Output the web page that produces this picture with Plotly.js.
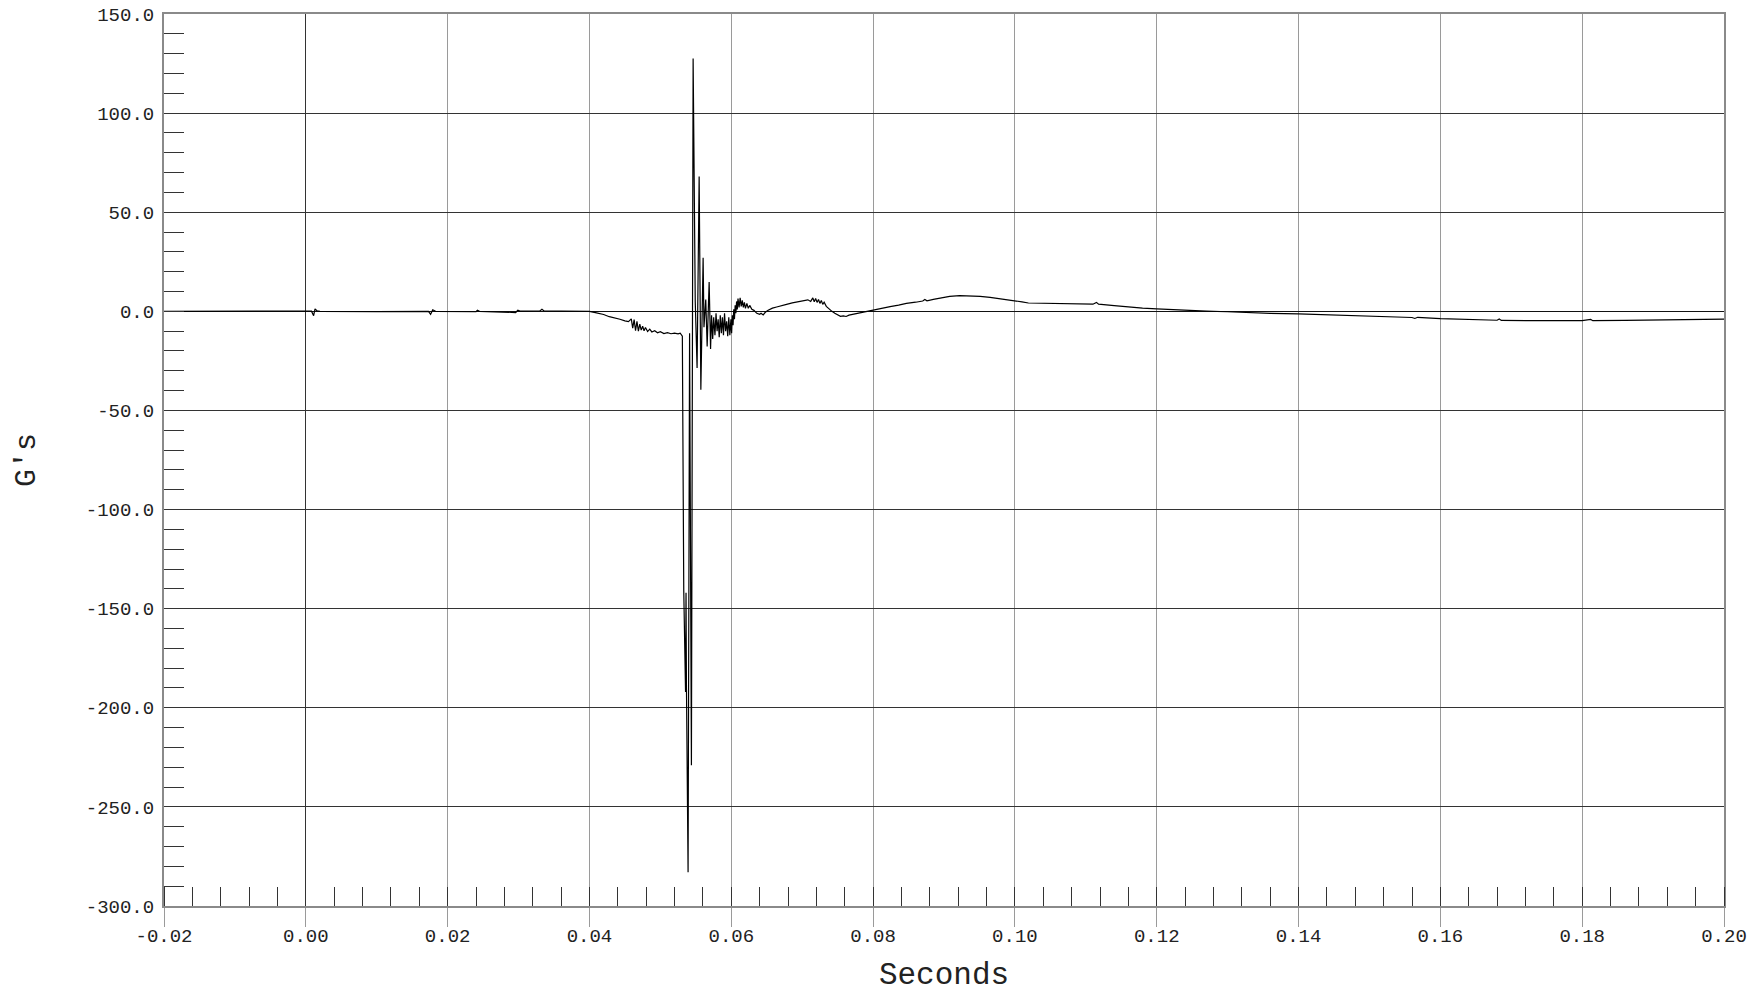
<!DOCTYPE html>
<html>
<head>
<meta charset="utf-8">
<script src="https://cdn.plot.ly/plotly-3.0.1.min.js"></script>
<style>
html,body{margin:0;padding:0;background:#fff;}
#chart{width:1754px;height:993px;}
</style>
</head>
<body>
<div id="chart"></div>
<script>
// Time (seconds) and acceleration (G's)
var timeS = [
 -0.02, -0.01, 0.0, 0.0008, 0.0011, 0.0013, 0.0016, 0.002, 0.01, 0.0173, 0.0176, 0.0179, 0.0183,
 0.024, 0.0242, 0.0245, 0.0296, 0.0299, 0.0302, 0.033, 0.0333, 0.0336, 0.036, 0.040,
 0.0410, 0.0420, 0.0428, 0.0435, 0.0443, 0.0450, 0.0455,
 0.0459, 0.0461, 0.0463, 0.0465, 0.0467, 0.0469, 0.0471, 0.0473, 0.0475, 0.0477, 0.0479,
 0.0482, 0.0485, 0.0488, 0.0492, 0.0496, 0.0500, 0.0505, 0.0510, 0.0515, 0.0520, 0.0525, 0.0528, 0.0530,
 0.05310, 0.05330, 0.05355, 0.05362, 0.05368, 0.05391, 0.05412, 0.05438, 0.05462,
 0.05492, 0.05518, 0.05547, 0.05571, 0.05603, 0.05615, 0.05640, 0.05660, 0.05688, 0.05708,
 0.05722, 0.05738, 0.05752, 0.05770, 0.05785, 0.05800, 0.05815, 0.05830, 0.05845, 0.05860,
 0.05875, 0.05890, 0.05905, 0.05920, 0.05935, 0.05950, 0.05965, 0.05980, 0.05995, 0.06005,
 0.06015, 0.06025, 0.06035, 0.06045, 0.06055, 0.06065, 0.06075, 0.06085, 0.06095, 0.06110,
 0.06125, 0.06140, 0.06155, 0.06170, 0.06185, 0.06200, 0.06220, 0.06240, 0.06260, 0.06290,
 0.06320, 0.06360, 0.06400, 0.06420, 0.06450, 0.06480, 0.06520, 0.06580, 0.06640, 0.06700,
 0.06780, 0.06860, 0.06940, 0.07020, 0.07080,
 0.07120, 0.07150, 0.07170, 0.07190, 0.07210, 0.07230, 0.07250, 0.07270, 0.07290, 0.07310,
 0.07340, 0.07380, 0.07420, 0.07460, 0.07500, 0.07540, 0.07580, 0.07620, 0.07660, 0.07700,
 0.07760, 0.07820, 0.07900, 0.08000, 0.08120, 0.08240, 0.08360, 0.08470, 0.08600, 0.08700,
 0.08730, 0.08760, 0.08850, 0.08960, 0.09080, 0.09220, 0.09350, 0.09510, 0.09650, 0.09800,
 0.09980, 0.10100, 0.10190, 0.10400, 0.10680, 0.10900, 0.11100, 0.11150, 0.11180, 0.11400,
 0.11620, 0.11800, 0.12000, 0.12330, 0.12700, 0.13000, 0.13260, 0.13600, 0.14000, 0.14500,
 0.15160, 0.15600, 0.15640, 0.15680, 0.16000, 0.16300, 0.16520, 0.16800, 0.16830, 0.16860,
 0.17340, 0.17800, 0.18000, 0.18120, 0.18150, 0.18600, 0.19240, 0.19600, 0.20000
];
var accelG = [
 0, 0, 0, 0.1, -2.2, 1.2, 0.2, 0, -0.1, 0, -1.5, 0.8, 0,
 -0.2, 0.5, 0, -0.6, 0.6, 0.1, 0.2, 1.0, 0.2, 0.1, 0,
 -0.8, -1.6, -2.7, -3.2, -4.0, -4.8, -5.2,
 -3.8, -8.5, -4.2, -9.8, -5.0, -10.0, -6.5, -9.5, -7.5, -9.8, -8.2,
 -10.2, -9.0, -10.4, -9.8, -10.8, -10.3, -11.2, -10.8, -11.3, -11.0, -11.4, -11.0, -12.0,
 -12.5, -141, -192, -142, -190, -283, -11, -229, 127.5,
 5, -28.6, 68, -39.5, 27, -8, 6, -17.7, 14.8, -19,
 -2, -14, -3, -12, -1, -10, -4, -13, -2, -11,
 -3, -12, -1, -10, -5, -12.5, -3, -12, -4, -11,
 -2, -7, 1, -4, 3, -1, 5, 1, 6.5, 2,
 6.8, 2.5, 5.5, 2, 4.5, 1.5, 4, 1.5, 3, 1,
 0.5, -1, -1.5, -1.0, -1.8, -0.5, 0.5, 1.6, 2.2, 2.6,
 3.5, 4.3, 4.8, 5.4, 5.8,
 5.0, 6.8, 4.8, 6.5, 4.5, 6.0, 4.0, 5.5, 3.5, 4.6,
 2.5, 1.0, 0, -1.0, -1.8, -2.5, -2.3, -2.6, -1.9, -1.6,
 -1.2, -0.6, 0, 0.8, 1.6, 2.4, 3.1, 4.0, 4.6, 5.2,
 6.0, 5.3, 6.0, 6.8, 7.5, 7.9, 7.8, 7.5, 7.0, 6.3,
 5.6, 4.8, 4.2, 4.1, 3.9, 3.8, 3.6, 4.5, 3.6, 2.9,
 2.1, 1.6, 1.2, 0.6, 0.1, -0.2, -0.6, -1.0, -1.3, -1.8,
 -2.5, -3.1, -3.6, -3.0, -3.7, -3.9, -4.2, -4.5, -3.9, -4.6,
 -4.7, -4.8, -4.7, -4.1, -4.7, -4.6, -4.2, -4.0, -3.9
];
var xTickVals = [-0.02, 0.0, 0.02, 0.04, 0.06, 0.08, 0.10, 0.12, 0.14, 0.16, 0.18, 0.20];
var xTickText = ['-0.02', '0.00', '0.02', '0.04', '0.06', '0.08', '0.10', '0.12', '0.14', '0.16', '0.18', '0.20'];
var yTickVals = [150, 100, 50, 0, -50, -100, -150, -200, -250, -300];
var yTickText = ['150.0', '100.0', '50.0', '0.0', '-50.0', '-100.0', '-150.0', '-200.0', '-250.0', '-300.0'];

var FONT = '"Liberation Mono", "Courier New", monospace';

var trace = {
  x: timeS, y: accelG, type: 'scatter', mode: 'lines',
  line: {color: '#000000', width: 1.2}, hoverinfo: 'skip'
};

var layout = {
  width: 1754, height: 993,
  margin: {l: 164, r: 30, t: 14, b: 87},
  paper_bgcolor: '#ffffff', plot_bgcolor: '#ffffff',
  showlegend: false,
  font: {family: FONT, color: '#222222', size: 19},
  xaxis: {
    range: [-0.02, 0.20], tickmode: 'array', tickvals: xTickVals, ticktext: xTickText,
    showgrid: true, gridcolor: '#9a9a9a', gridwidth: 1,
    zeroline: true, zerolinecolor: '#333333', zerolinewidth: 1.3,
    showline: true, linecolor: '#8a8a8a', linewidth: 2, mirror: true,
    ticks: 'outside', ticklen: 19, tickcolor: '#9a9a9a', tickwidth: 1,
    minor: {ticks: 'inside', dtick: 0.004, tick0: 0, ticklen: 19, tickcolor: '#333333', tickwidth: 1, showgrid: false},
    tickfont: {family: FONT, size: 19, color: '#222222'},
    ticklabelstandoff: -8,
    title: {text: 'Seconds', font: {family: FONT, size: 31, color: '#222222'}, standoff: 25},
    automargin: false, fixedrange: true
  },
  yaxis: {
    range: [-300, 150], tickmode: 'array', tickvals: yTickVals, ticktext: yTickText,
    showgrid: true, gridcolor: '#333333', gridwidth: 1.2,
    zeroline: true, zerolinecolor: '#111111', zerolinewidth: 1.6,
    showline: true, linecolor: '#8a8a8a', linewidth: 2, mirror: true,
    ticks: 'inside', ticklen: 20, tickcolor: '#333333', tickwidth: 1,
    minor: {ticks: 'inside', dtick: 10, tick0: 0, ticklen: 20, tickcolor: '#333333', tickwidth: 1, showgrid: false},
    tickfont: {family: FONT, size: 19, color: '#222222'},
    ticklabelstandoff: 4,
    title: {text: "G's", font: {family: FONT, size: 30, color: '#222222'}, standoff: 41},
    automargin: false, fixedrange: true
  }
};

Plotly.newPlot('chart', [trace], layout, {staticPlot: true, displayModeBar: false});
</script>
</body>
</html>
